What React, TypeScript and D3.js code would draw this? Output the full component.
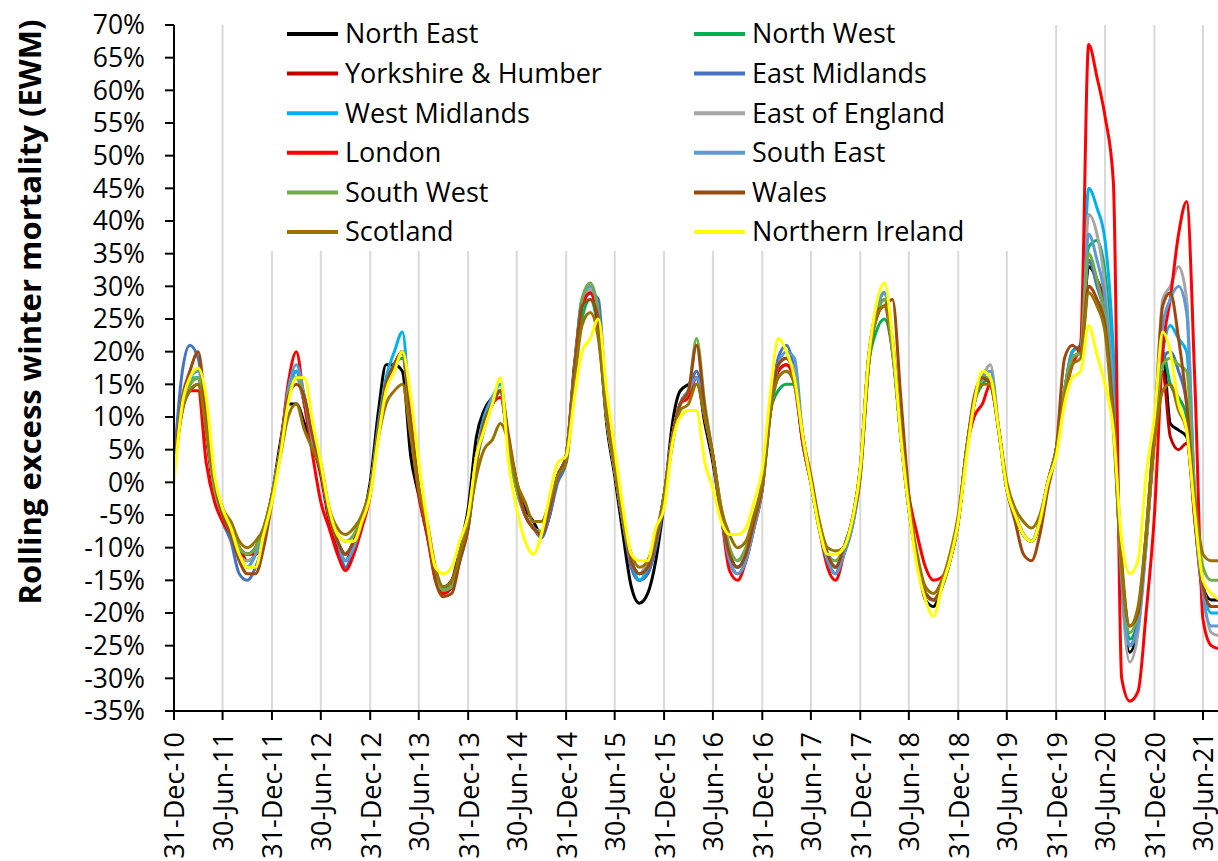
import React from 'react';
import * as d3 from 'd3';

const W = 1218;
const H = 861;

// monthly samples, month-end dates from 31-Dec-2010
const monthCount = 129;
const dates: Date[] = d3.range(monthCount).map((m) => new Date(2010, 12 + m, 0));

const tickDates: Date[] = d3.range(22).map((i) => (i % 2 === 0 ? new Date(2010 + i / 2, 11, 31) : new Date(2011 + (i - 1) / 2, 5, 30)));
const yTicks = d3.range(-35, 71, 5);

const seriesNames = [
  'North East', 'North West', 'Yorkshire & Humber', 'East Midlands', 'West Midlands', 'East of England',
  'London', 'South East', 'South West', 'Wales', 'Scotland', 'Northern Ireland',
];
const seriesColors = [
  '#000000', '#00b050', '#c00000', '#4472c4', '#00b0f0', '#a5a5a5',
  '#ff0000', '#5b9bd5', '#70ad47', '#9e480e', '#997300', '#ffff00',
];

const northEast = [
  2, 12, 15, 16, 9, 0, -4, -7, -10, -11, -10, -7, -2,
  6, 12, 12, 9, 5, 2, -5, -9, -11, -9, -6, 0,
  11, 18, 18, 17, 4, -2, -8, -14, -16, -15, -10, -4,
  7, 11, 13, 14, 5, -1, -4, -6, -8, -5, 1, 4,
  18, 27, 29, 24, 9, 1, -8, -16, -18.5, -17, -12, -3,
  9, 14, 15, 16, 9, 3, -5, -11, -13, -11, -6, 0,
  12, 17, 18, 16, 6, 0, -7, -11, -13, -10, -6, 2,
  19, 26, 29, 21, 7, -4, -12, -18, -19, -16, -12, -6,
  5, 12, 16, 16, 8, -1, -5, -8, -9, -6, 0, 5,
  14, 19, 20, 33, 31, 27, 12, -15, -26, -22, -9, 7,
  20, 9, 8, 7, -5, -16, -18, -18,
];
const northWest = [
  2, 12, 15, 16, 8, -1, -5, -7.5, -10, -12, -11, -8, -2,
  5, 13, 16, 12, 6, 2, -5, -9, -11, -9, -6, -1,
  8, 15, 18, 19, 9, -1, -7, -14, -16.5, -16, -11, -6,
  4, 9, 12, 14, 5, -1, -5, -7, -8, -4, 1, 4,
  17, 25, 28, 23, 10, 2, -6, -12, -14, -13, -9, -2,
  7, 12, 14, 16, 10, 4, -5, -11, -13, -11, -6, -0.5,
  11, 14, 15, 15, 6, 0, -7, -11, -13, -10, -6, 2,
  18, 23, 25, 20, 7, -4, -12, -17, -18, -16, -12, -6,
  5, 12, 15, 16, 8, -1, -5, -8, -9, -6, 0, 5,
  14, 19, 20, 36, 37, 32, 15, -14, -24, -21, -9, 8,
  20, 15, 13, 10, -6, -17, -19, -19,
];
const yorkshire = [
  2, 12, 14, 15, 7, -2, -5, -8, -10, -12, -11, -8, -2,
  5, 14, 17, 12, 6, 1, -6, -10, -12, -9, -6, -1,
  8, 15, 18, 20, 9, -1, -7, -14, -16.5, -16, -11, -6,
  4, 9, 12, 14, 6, 0, -5, -7, -8, -4, 1, 4,
  17, 27, 29, 24, 10, 2, -6, -13, -15, -14, -9, -2,
  7, 12, 14, 16, 10, 4, -5, -12, -14, -12, -6, -0.5,
  12, 18, 19, 16, 6, 0, -7, -12, -14, -10, -6, 2,
  19, 26, 28, 21, 7, -4, -12, -17, -18, -16, -12, -6,
  5, 12, 16, 15, 8, -1, -5, -8, -9, -6, 0, 5,
  14, 20, 21, 34, 31, 27, 11, -15, -25, -21, -9, 7,
  17, 7, 5, 6, -6, -17, -19, -19,
];
const eastMidlands = [
  3, 17, 21, 19, 9, -1, -6, -9, -14, -15, -13, -9, -2,
  5, 13, 17, 13, 6, 2, -5, -9, -13, -10, -6, -1,
  8, 15, 18, 20, 9, -1, -7, -14, -16.5, -16, -12, -7,
  3, 8, 12, 14, 6, -1, -5, -7, -8.5, -5, 0, 3,
  16, 27, 29, 28, 11, 2, -6, -13, -15, -14, -10, -3,
  6, 12, 14, 17, 11, 4, -5, -12, -14, -12, -7, -1,
  11, 19, 21, 17, 7, 0, -7, -12, -14, -11, -7, 1,
  18, 26, 29, 21, 8, -4, -12, -17, -18, -16, -12, -6,
  5, 12, 16, 16, 8, -1, -5, -8, -9, -6, 0, 5,
  14, 19, 20, 34, 30, 25, 10, -15, -25, -21, -9, 7,
  19, 20, 17, 12, -4, -16, -19, -19,
];
const westMidlands = [
  2, 12, 16, 16, 8, -1, -5, -8, -11, -13, -11, -8, -2,
  5, 13, 17, 13, 6, 2, -5, -9, -12, -10, -6, -1,
  9, 16, 20, 23, 9, -1, -7, -14, -17, -16, -11, -6,
  4, 10, 13, 15, 6, -1, -5, -7, -8, -4, 1, 4,
  17, 28, 29, 25, 10, 2, -6, -12, -15, -13, -9, -2,
  7, 12, 14, 16, 10, 4, -5, -11, -13, -11, -6, -0.5,
  12, 18, 19, 16, 6, 0, -7, -11, -13, -10, -6, 2,
  19, 26, 29, 21, 7, -4, -12, -17, -18, -16, -12, -6,
  5, 12, 16, 16, 8, -1, -5, -8, -9, -6, 0, 5,
  14, 20, 21, 45, 42, 37, 20, -15, -25, -22, -8, 8,
  20, 24, 22, 20, -2, -16, -20, -20,
];
const eastOfEngland = [
  2, 12, 15, 16, 8, -1, -5, -7.5, -11, -12, -11, -8, -2,
  5, 13, 16, 12, 6, 2, -5, -9, -11, -9, -6, -1,
  8, 15, 18, 20, 9, -1, -7, -14, -16.5, -16, -11, -6,
  4, 9, 12, 14, 5, -1, -5, -7, -8, -4, 1, 4,
  17, 27, 29.5, 25, 10, 2, -6, -12, -14, -12, -9, -2,
  7, 12, 14, 16, 10, 4, -4, -10, -12, -10, -6, -0.5,
  12, 18, 19, 17, 6, 0, -7, -11, -13, -10, -6, 2,
  19, 26, 29, 21, 7, -4, -12, -17, -18, -16, -12, -6,
  5, 12, 16, 18, 8, -1, -5, -8, -9, -6, 0, 5,
  14, 19, 20, 41, 38, 30, 12, -16, -27.5, -23, -10, 7,
  28, 30, 33, 28, -4, -17, -23, -23.5,
];
const london = [
  2, 11, 14, 14, 3, -3, -6, -8, -10, -11, -11, -9, -2,
  5, 15, 20, 12, 4, -3, -7, -11, -13.5, -11, -7, -2,
  8, 15, 18, 20, 8, -2, -8, -15, -17, -16, -11, -6,
  4, 9, 12, 13, 6, 0, -5, -7, -8, -4, 1, 4,
  17, 27, 29, 24, 10, 2, -6, -12, -14, -13, -9, -2,
  7, 12, 13, 16, 10, 4, -5, -13.5, -15, -12, -7, -1,
  12, 17, 18, 15, 6, 0, -7, -13, -15, -11, -6, 2,
  19, 25, 27, 20, 8, -2, -8, -13, -15, -14.5, -12, -6,
  5, 10, 12, 15, 8, -1, -5, -8, -9, -6, 0, 5,
  13, 18, 21, 67, 62, 56, 46, -30, -33.5, -32, -20, -5,
  20, 28, 38, 43, 15, -21, -25, -25.5,
];
const southEast = [
  2, 13, 16, 17, 8, -1, -5, -8, -11, -13, -11, -8, -2,
  5, 14, 18, 13, 6, 2, -5, -9, -12, -10, -6, -1,
  8, 15, 18, 20, 9, -1, -7, -14, -16.5, -16, -12, -7,
  3, 9, 13, 14, 6, -1, -5, -7, -8, -4, 1, 4,
  17, 28, 30, 26, 10, 2, -6, -12, -14, -13, -9, -2,
  7, 12, 14, 16, 11, 4, -5, -12, -14, -12, -7, -1,
  11, 18, 20, 19, 7, 0, -7, -12, -14, -11, -7, 1,
  18, 26, 29, 21, 8, -4, -12, -17, -18, -16, -12, -6,
  5, 12, 16, 17, 8, -1, -5, -8, -9, -6, 0, 5,
  14, 19, 20, 38, 34, 28, 12, -15, -25, -22, -9, 8,
  24, 28, 30, 26, -3, -17, -22, -22,
];
const southWest = [
  2, 12, 15, 16, 8, -1, -5, -7, -10, -11, -10, -7, -2,
  5, 13, 16, 13, 7, 3, -4, -8, -9, -8, -5, -1,
  8, 15, 18, 20, 9, -1, -7, -14, -16.5, -16, -11, -6,
  4, 9, 12, 14, 5, -1, -5, -7, -7.5, -4, 1, 4,
  17, 28, 30.5, 26, 10, 2, -6, -12, -14, -13, -9, -2,
  7, 12, 14, 22, 12, 4, -4, -10, -12, -10, -6, -0.5,
  11, 16, 17, 15, 7, 0, -7, -11, -12, -10, -6, 2,
  19, 25, 28, 20, 7, -4, -12, -17, -18, -16, -12, -6,
  5, 12, 16, 16, 8, -1, -5, -8, -9, -6, 0, 5,
  14, 19, 20, 35, 31, 25, 10, -13, -23, -20, -8, 8,
  18, 19, 18, 17, -3, -13, -15, -15,
];
const wales = [
  2, 13, 17, 20, 10, 0, -5, -8, -12, -14, -14, -10, -3,
  5, 13, 15, 13, 7, 2, -5, -9, -11, -9, -6, -1,
  8, 15, 18, 20, 10, -1, -7, -15, -17.5, -17, -12, -7,
  3, 9, 12, 14, 7, 0, -5, -7, -8, -4, 1, 4,
  17, 27, 28, 25, 11, 3, -5, -12, -14, -13, -9, -2,
  7, 12, 14, 21, 11, 4, -5, -11, -13, -11, -6, -0.5,
  11, 18, 19, 16, 7, 1, -6, -11, -13, -10, -6, 1,
  18, 26, 27, 28, 13, -2, -12, -17, -18, -16, -12, -6,
  5, 13, 16, 15, 8, -1, -6, -11, -12, -8, -1, 5,
  19, 21, 20, 30, 28, 24, 10, -12, -22, -20, -8, 8,
  27, 29, 22, 12, -4, -16, -19, -19,
];
const scotland = [
  2, 11, 14, 15, 8, 0, -4, -6, -9, -10, -9, -7, -2,
  4, 10, 12, 8, 5, 2, -4, -7, -8, -7, -5, -1,
  7, 12, 14, 15, 7, -1, -6, -13, -16, -15, -11, -6,
  1, 5, 6.5, 9, 6, 0, -3, -6, -6, -3, 1, 3,
  15, 24, 26, 22, 10, 2, -6, -11, -13, -12, -8, -2,
  6, 11, 12, 15, 10, 4, -4, -8, -10, -9, -5, 0,
  11, 16, 17, 15, 7, 0, -6, -10, -10.5, -10, -6, 2,
  18, 25, 27, 22, 8, -3, -11, -16, -17, -15, -11, -5,
  5, 12, 15, 15, 8, 0, -4, -6, -7, -5, 0, 5,
  13, 18, 19, 29, 27, 23, 8, -13, -22, -19, -8, 6,
  14, 15, 11, 8, -3, -11, -12, -12,
];
const northernIreland = [
  0, 12, 16, 17.5, 13, 1, -4, -7, -11, -13, -13, -8, -3,
  4, 12, 16, 16, 9, 3, -4, -8, -9, -9, -6, -2,
  7, 14, 17, 20, 13, 3, -6, -13, -14, -13, -9, -5,
  4, 8, 12, 16, 3, -4, -9, -11, -8, -2, 3, 4,
  13, 20, 22, 25, 14, 5, -4, -11, -12, -12, -7, -4,
  6, 10, 11, 11, 3, -1, -6, -8, -8, -7, -3, 2,
  14, 22, 20, 16, 7, 0, -7, -11, -11, -10, -6, 2,
  19, 27, 30.5, 22, 7, -4, -13, -18, -20.5, -16, -12, -6,
  4, 12, 17, 16, 8, -1, -5, -8, -9, -6, 0, 4,
  12, 16, 17, 24, 19.5, 15, 8, -9, -14, -12, 1, 10,
  23, 20, 12, 8, -5, -15, -17, -18,
];

const seriesValues = [
  northEast, northWest, yorkshire, eastMidlands, westMidlands, eastOfEngland,
  london, southEast, southWest, wales, scotland, northernIreland,
];

const FONT = "'Open Sans', 'Noto Sans', sans-serif";

export default function App() {
  const x = d3.scaleTime().domain([new Date(2010, 11, 31), new Date(2021, 5, 30)]).range([174, 1203]);
  const y = d3.scaleLinear().domain([-35, 70]).range([711, 25]);
  const fmt = d3.timeFormat('%d-%b-%y');
  const line = d3
    .line<number>()
    .x((_, i) => x(dates[i]))
    .y((v) => y(v))
    .curve(d3.curveMonotoneX);

  const legendRowY = (i: number) => 34 + Math.floor(i / 2) * 39.6;
  const legendColX = (i: number) => (i % 2 === 0 ? 287 : 694);

  return (
    <svg width={W} height={H} style={{ position: 'absolute', left: 0, top: 0, background: '#fff' }}>
      <rect x={0} y={0} width={W} height={H} fill="#fff" />
      <defs>
        <clipPath id="plotClip">
          <rect x={174} y={0} width={W - 174} height={711} />
        </clipPath>
      </defs>
      {/* vertical gridlines */}
      {tickDates.slice(1).map((d, i) => (
        <line key={'g' + i} x1={x(d)} x2={x(d)} y1={y(70)} y2={y(-35)} stroke="#d9d9d9" strokeWidth={2} />
      ))}
      {/* legend background */}
      <rect x={250} y={10} width={780} height={241} fill="#fff" />
      {/* series */}
      <g clipPath="url(#plotClip)">
        {seriesValues.map((vals, si) => (
          <path
            key={'s' + si}
            d={line(vals) || ''}
            fill="none"
            stroke={seriesColors[si]}
            strokeWidth={3}
            strokeLinejoin="round"
            strokeLinecap="round"
          />
        ))}
      </g>
      {/* y axis */}
      <line x1={174} x2={174} y1={y(70)} y2={y(-35)} stroke="#000" strokeWidth={2} />
      {yTicks.map((t) => (
        <g key={'yt' + t}>
          <line x1={165} x2={174} y1={y(t)} y2={y(t)} stroke="#000" strokeWidth={2} />
          <text x={145} y={y(t)} dy="0.35em" textAnchor="end" fontFamily={FONT} fontSize={26.5} fill="#000">
            {t + '%'}
          </text>
        </g>
      ))}
      {/* x axis */}
      <line x1={174} x2={W} y1={711} y2={711} stroke="#000" strokeWidth={2} />
      {tickDates.map((d, i) => (
        <g key={'xt' + i}>
          <line x1={x(d)} x2={x(d)} y1={711} y2={720} stroke="#000" strokeWidth={2} />
          <text
            transform={`translate(${x(d) + 1},732) rotate(-90)`}
            dy="0.35em"
            textAnchor="end"
            fontFamily={FONT}
            fontSize={27}
            fill="#000"
          >
            {fmt(d)}
          </text>
        </g>
      ))}
      {/* y title */}
      <text
        transform="translate(30,312) rotate(-90)"
        dy="0.35em"
        textAnchor="middle"
        fontFamily={FONT}
        fontWeight="bold"
        fontSize={31}
        fill="#000"
      >
        Rolling excess winter mortality (EWM)
      </text>
      {/* legend */}
      {seriesNames.map((name, i) => (
        <g key={'l' + i}>
          <line
            x1={legendColX(i)}
            x2={legendColX(i) + 51}
            y1={legendRowY(i)}
            y2={legendRowY(i)}
            stroke={seriesColors[i]}
            strokeWidth={4}
          />
          <text x={legendColX(i) + 58} y={legendRowY(i)} dy="0.35em" fontFamily={FONT} fontSize={27} fill="#000">
            {name}
          </text>
        </g>
      ))}
    </svg>
  );
}
